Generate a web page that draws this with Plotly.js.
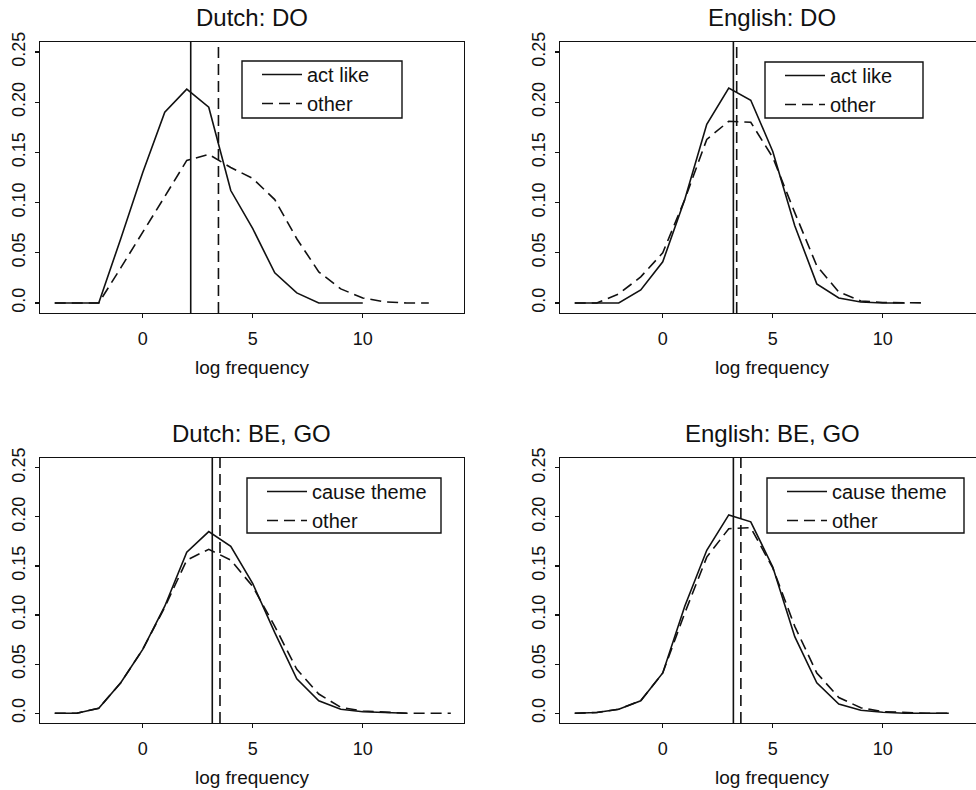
<!DOCTYPE html>
<html>
<head>
<meta charset="utf-8">
<script src="https://cdn.plot.ly/plotly-3.0.1.min.js"></script>
<style>
html, body { margin: 0; padding: 0; overflow: hidden; background: #fff; }
#chart { width: 990px; height: 790px; }
</style>
</head>
<body>
<div id="chart"></div>
<script>
// ---------- DATA ----------
const xGrid = [-4, -3, -2, -1, 0, 1, 2, 3, 4, 5, 6, 7, 8, 9, 10, 11, 12, 13, 14];

const panelTitles = ["Dutch: DO", "English: DO", "Dutch: BE, GO", "English: BE, GO"];
const seriesNamesDO = ["act like", "other"];
const seriesNamesBEGO = ["cause theme", "other"];
const xAxisTitle = "log frequency";

const yTickVals = [0, 0.05, 0.10, 0.15, 0.20, 0.25];
const yTickText = ["0.0", "0.05", "0.10", "0.15", "0.20", "0.25"];
const xTickVals = [0, 5, 10];
const xTickText = ["0", "5", "10"];

// Dutch: DO  (densities at x = -4, -3, ...)
const dutchDO_actLike = [0, 0, 0, 0.064, 0.13, 0.19, 0.213, 0.195, 0.112, 0.074, 0.030, 0.010, 0.0, 0.0, 0.0];
const dutchDO_other   = [0, 0, 0, 0.035, 0.070, 0.106, 0.142, 0.148, 0.135, 0.124, 0.103, 0.064, 0.031, 0.014, 0.005, 0.001, 0, 0];
const dutchDO_medians = [2.18, 3.44];

// English: DO
const englishDO_actLike = [0, 0, 0, 0.013, 0.041, 0.103, 0.178, 0.214, 0.202, 0.151, 0.077, 0.019, 0.005, 0.001, 0, 0];
const englishDO_other   = [0, 0, 0.009, 0.026, 0.050, 0.103, 0.163, 0.181, 0.180, 0.145, 0.090, 0.037, 0.011, 0.002, 0.0005, 0, 0];
const englishDO_medians = [3.21, 3.36];

// Dutch: BE, GO
const dutchBEGO_causeTheme = [0, 0, 0.005, 0.031, 0.065, 0.109, 0.164, 0.185, 0.170, 0.132, 0.082, 0.035, 0.0127, 0.004, 0.0015, 0.0005, 0];
const dutchBEGO_other      = [0, 0, 0.005, 0.031, 0.065, 0.108, 0.156, 0.167, 0.156, 0.129, 0.0885, 0.0447, 0.0195, 0.006, 0.0022, 0.001, 0, 0, 0];
const dutchBEGO_medians = [3.16, 3.51];

// English: BE, GO
const englishBEGO_causeTheme = [0, 0.0007, 0.004, 0.0127, 0.041, 0.109, 0.166, 0.202, 0.195, 0.149, 0.078, 0.031, 0.0094, 0.003, 0.001, 0, 0, 0];
const englishBEGO_other      = [0, 0.0007, 0.004, 0.0127, 0.041, 0.102, 0.159, 0.188, 0.189, 0.148, 0.0885, 0.041, 0.016, 0.0055, 0.0015, 0.0005, 0, 0];
const englishBEGO_medians = [3.21, 3.55];

// ---------- LAYOUT HELPERS ----------
const W = 990, H = 790;
const px = v => v / W;
const py = v => 1 - v / H;
const INK = "#111";
const FONT = "Liberation Sans, Arial, Helvetica, sans-serif";
const DASH = "11px,6px";

const panels = [
  { id: "", names: seriesNamesDO, solid: dutchDO_actLike, dashed: dutchDO_other, med: dutchDO_medians,
    left: 40, right: 464, top: 42, bottom: 313, leg: { l: 242, r: 402, t: 61, b: 118 } },
  { id: "2", names: seriesNamesDO, solid: englishDO_actLike, dashed: englishDO_other, med: englishDO_medians,
    left: 560, right: 984, top: 42, bottom: 313, leg: { l: 765, r: 923, t: 62, b: 118 } },
  { id: "3", names: seriesNamesBEGO, solid: dutchBEGO_causeTheme, dashed: dutchBEGO_other, med: dutchBEGO_medians,
    left: 40, right: 464, top: 458, bottom: 723, leg: { l: 247, r: 441, t: 478, b: 533 } },
  { id: "4", names: seriesNamesBEGO, solid: englishBEGO_causeTheme, dashed: englishBEGO_other, med: englishBEGO_medians,
    left: 560, right: 984, top: 458, bottom: 723, leg: { l: 767, r: 964, t: 478, b: 533 } }
];

const traces = [];
const shapes = [];
const annotations = [];
const layout = {
  width: W, height: H,
  margin: { l: 0, r: 0, t: 0, b: 0 },
  paper_bgcolor: "#fff", plot_bgcolor: "#fff",
  font: { family: FONT, color: INK },
  showlegend: true
};

panels.forEach((p, i) => {
  const xa = "x" + p.id, ya = "y" + p.id;
  const legName = "legend" + p.id;
  traces.push({
    type: "scatter", mode: "lines", name: p.names[0],
    x: xGrid.slice(0, p.solid.length), y: p.solid,
    xaxis: xa, yaxis: ya, legend: legName,
    line: { color: INK, width: 1.6 }, hoverinfo: "skip"
  });
  traces.push({
    type: "scatter", mode: "lines", name: p.names[1],
    x: xGrid.slice(0, p.dashed.length), y: p.dashed,
    xaxis: xa, yaxis: ya, legend: legName,
    line: { color: INK, width: 1.6, dash: DASH }, hoverinfo: "skip"
  });

  layout["xaxis" + p.id] = {
    domain: [px(p.left), px(p.right)], range: [-4.67, 14.6], anchor: ya,
    showline: true, mirror: true, linecolor: INK, linewidth: 1.4,
    ticks: "outside", ticklen: 4, tickcolor: INK, tickwidth: 1.2,
    tickvals: xTickVals, ticktext: xTickText, ticklabelstandoff: 5,
    tickfont: { size: 18, family: FONT, color: INK },
    showgrid: false, zeroline: false,
    title: { text: xAxisTitle, font: { size: 19, family: FONT, color: INK }, standoff: 12 }
  };
  layout["yaxis" + p.id] = {
    domain: [py(p.bottom), py(p.top)], range: [-0.01, 0.26], anchor: xa,
    showline: true, mirror: true, linecolor: INK, linewidth: 1.4,
    ticks: "outside", ticklen: 4, tickcolor: INK, tickwidth: 1.2,
    tickvals: yTickVals, ticktext: yTickText, tickangle: -90, ticklabelstandoff: 2,
    tickfont: { size: 18, family: FONT, color: INK },
    showgrid: false, zeroline: false
  };

  // median vertical lines
  shapes.push({ type: "line", xref: xa, yref: ya + " domain", x0: p.med[0], x1: p.med[0], y0: 0, y1: 1,
                line: { color: INK, width: 1.6 } });
  shapes.push({ type: "line", xref: xa, yref: ya + " domain", x0: p.med[1], x1: p.med[1], y0: 0, y1: 1,
                line: { color: INK, width: 1.6, dash: DASH } });

  // legend frame
  shapes.push({ type: "rect", xref: "paper", yref: "paper",
                x0: px(p.leg.l), x1: px(p.leg.r), y0: py(p.leg.b), y1: py(p.leg.t),
                line: { color: INK, width: 1.4 }, fillcolor: "rgba(0,0,0,0)" });

  layout[legName] = {
    x: px(p.leg.l + 15), xanchor: "left", y: py(p.leg.t - 6), yanchor: "top",
    bgcolor: "rgba(0,0,0,0)", borderwidth: 0, itemwidth: 40,
    font: { size: 20, family: FONT, color: INK }, traceorder: "normal"
  };

  annotations.push({
    text: panelTitles[i], xref: "paper", yref: "paper",
    x: px((p.left + p.right) / 2), y: py(p.top - 25), xanchor: "center", yanchor: "middle",
    showarrow: false, font: { size: 24, family: FONT, color: INK }
  });
});

layout.shapes = shapes;
layout.annotations = annotations;

Plotly.newPlot("chart", traces, layout, { staticPlot: true, displayModeBar: false });
</script>
</body>
</html>
